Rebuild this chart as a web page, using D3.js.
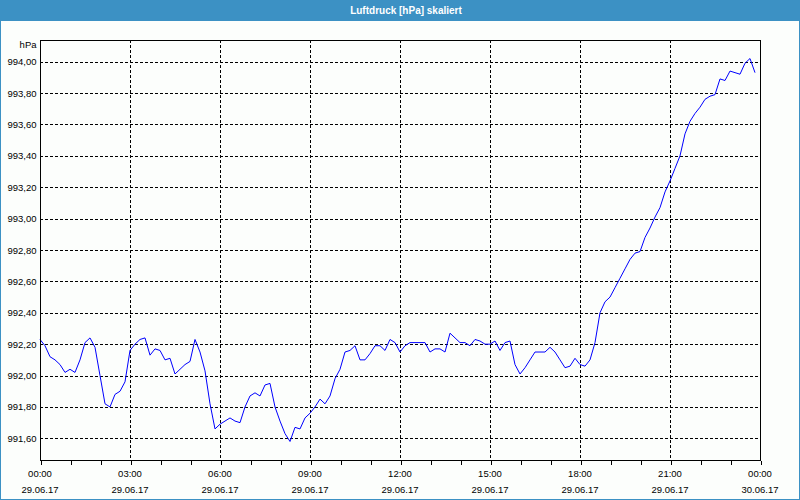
<!DOCTYPE html>
<html>
<head>
<meta charset="utf-8">
<script src="https://cdn.jsdelivr.net/npm/d3@7"></script>
<style>
html,body{margin:0;padding:0;background:#fcfefc;}
svg{display:block;}
text{font-family:"Liberation Sans",Arial,sans-serif;}
</style>
</head>
<body>
<svg id="chart" width="800" height="500"></svg>
<script>
// ---- data (10-minute readings, 29.06.17 00:00 .. 23:50) ----
const title = "Luftdruck [hPa] skaliert";
const unitLabel = "hPa";
const startTime = "2017-06-29T00:00:00";
const endTime = "2017-06-30T00:00:00";
const intervalMinutes = 10;
const pressure = [
  992.23, 992.19, 992.12, 992.10, 992.07, 992.02,
  992.04, 992.02, 992.10, 992.21, 992.24, 992.18,
  992.00, 991.82, 991.80, 991.88, 991.90, 991.96,
  992.16, 992.20, 992.23, 992.24, 992.13, 992.17,
  992.16, 992.10, 992.11, 992.01, 992.04, 992.07,
  992.09, 992.23, 992.15, 992.03, 991.82, 991.66,
  991.69, 991.71, 991.73, 991.71, 991.70, 991.80,
  991.87, 991.89, 991.87, 991.94, 991.95, 991.80,
  991.71, 991.63, 991.58, 991.67, 991.66, 991.73,
  991.76, 991.80, 991.85, 991.82, 991.87, 991.98,
  992.04, 992.15, 992.16, 992.19, 992.10, 992.10,
  992.14, 992.19, 992.19, 992.16, 992.23, 992.21,
  992.15, 992.19, 992.21, 992.21, 992.21, 992.21,
  992.15, 992.17, 992.17, 992.15, 992.27, 992.24,
  992.21, 992.21, 992.19, 992.23, 992.22, 992.20,
  992.20, 992.22, 992.16, 992.21, 992.22, 992.07,
  992.01, 992.05, 992.10, 992.15, 992.15, 992.15,
  992.18, 992.15, 992.10, 992.05, 992.06, 992.11,
  992.07, 992.06, 992.10, 992.21, 992.40, 992.47,
  992.50, 992.56, 992.62, 992.68, 992.74, 992.78,
  992.79, 992.88, 992.94, 993.01, 993.07, 993.17,
  993.24, 993.32, 993.40, 993.54, 993.62, 993.67,
  993.71, 993.76, 993.78, 993.79, 993.89, 993.88,
  993.94, 993.93, 993.92, 993.99, 994.02, 993.93
];
const yTicks = [991.6, 991.8, 992.0, 992.2, 992.4, 992.6, 992.8, 993.0, 993.2, 993.4, 993.6, 993.8, 994.0];
const yDomain = [991.462, 994.138];

// ---- layout ----
const W = 800, H = 500;
const m = {left: 40, right: 40, top: 40, bottom: 40};
const svg = d3.select("#chart");

// frame + title bar
svg.append("rect").attr("x", 0.5).attr("y", 0.5).attr("width", W - 1).attr("height", H - 1)
  .attr("fill", "#fcfefc").attr("stroke", "#3c91c4").attr("stroke-width", 1);
svg.append("rect").attr("x", 0).attr("y", 0).attr("width", W).attr("height", 21).attr("fill", "#3c91c4");
svg.append("text").attr("x", 406).attr("y", 14).attr("text-anchor", "middle")
  .attr("fill", "#ffffff").attr("font-weight", "bold").attr("font-size", "10px").text(title);

const parse = d3.isoParse;
const t0 = parse(startTime), t1 = parse(endTime);
const data = pressure.map((v, i) => ({t: new Date(t0.getTime() + i * intervalMinutes * 60000), v}));

const x = d3.scaleTime().domain([t0, t1]).range([m.left, W - m.right]);
const y = d3.scaleLinear().domain(yDomain).range([H - m.bottom, m.top]);

const fmtNum = v => d3.format(".2f")(v).replace(".", ",");

// horizontal grid
const g = svg.append("g").attr("shape-rendering", "crispEdges");
g.selectAll("line.hg").data(yTicks).join("line")
  .attr("x1", m.left).attr("x2", W - m.right)
  .attr("y1", d => Math.round(y(d)) + 0.5).attr("y2", d => Math.round(y(d)) + 0.5)
  .attr("stroke", "#000").attr("stroke-dasharray", "3,2");

// vertical grid at 3-hour major ticks (interior only)
const majors = x.ticks(d3.timeHour.every(3));
g.selectAll("line.vg").data(majors.filter(d => +d !== +t0 && +d !== +t1)).join("line")
  .attr("y1", m.top).attr("y2", H - m.bottom)
  .attr("x1", d => Math.round(x(d)) + 0.5).attr("x2", d => Math.round(x(d)) + 0.5)
  .attr("stroke", "#000").attr("stroke-dasharray", "3,2");

// data line
const line = d3.line().x(d => x(d.t)).y(d => y(d.v));
svg.append("path").datum(data).attr("d", line)
  .attr("fill", "none").attr("stroke", "#0000ff").attr("stroke-width", 1);

// plot border
svg.append("rect").attr("x", m.left + 0.5).attr("y", m.top + 0.5)
  .attr("width", W - m.left - m.right).attr("height", H - m.top - m.bottom)
  .attr("fill", "none").attr("stroke", "#000").attr("shape-rendering", "crispEdges");

// x axis (hourly ticks, labels every 3h)
const xAxis = d3.axisBottom(x).ticks(d3.timeHour.every(1)).tickSize(4).tickFormat("");
const xg = svg.append("g").attr("transform", `translate(0.5,${H - m.bottom + 0.5})`).call(xAxis);
xg.select(".domain").remove();
xg.selectAll(".tick line").attr("stroke", "#000").attr("shape-rendering", "crispEdges");

const fmtTime = d3.timeFormat("%H:%M"), fmtDate = d3.timeFormat("%d.%m.%y");
const lab = svg.append("g").attr("font-size", "9.5px").attr("fill", "#000");
lab.selectAll("text.xt").data(majors).join("text")
  .attr("x", d => x(d)).attr("y", 477).attr("text-anchor", "middle").text(d => fmtTime(d));
lab.selectAll("text.xd").data(majors).join("text")
  .attr("x", d => x(d)).attr("y", 492.5).attr("text-anchor", "middle").text(d => fmtDate(d));

// y labels
const yAxis = d3.axisLeft(y).tickValues(yTicks).tickSize(0).tickPadding(3.5).tickFormat(fmtNum);
const yg = svg.append("g").attr("transform", `translate(${m.left},0)`).call(yAxis);
yg.select(".domain").remove();
yg.selectAll("text").attr("font-size", "9.5px").attr("fill", "#000")
  .attr("font-family", "Liberation Sans, Arial, sans-serif");

lab.append("text").attr("x", 36.5).attr("y", 48).attr("text-anchor", "end").text(unitLabel);
</script>
</body>
</html>
